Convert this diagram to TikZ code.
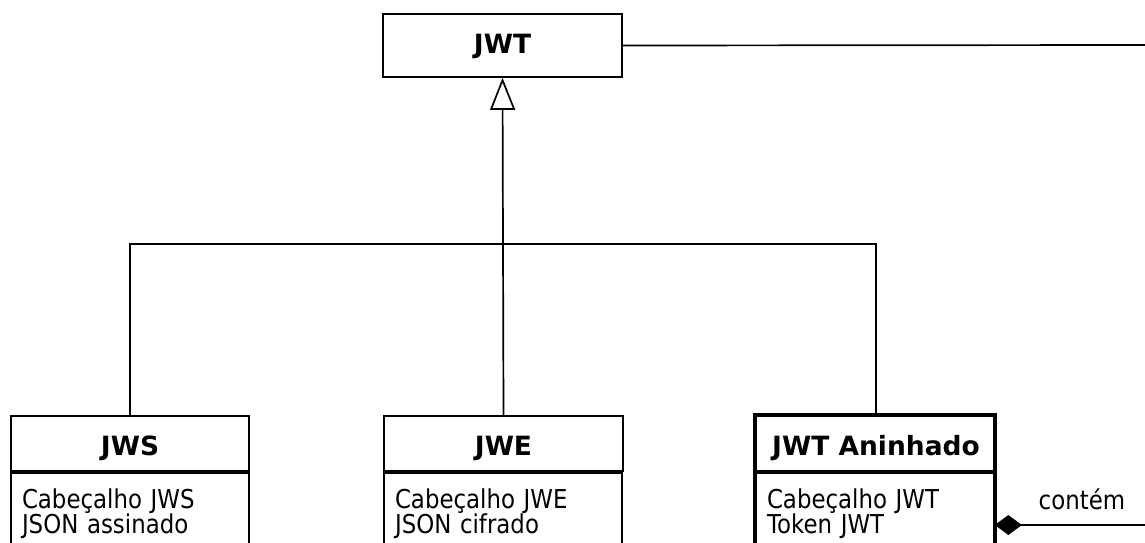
\documentclass[tikz,border=0pt]{standalone}
\usepackage{fontspec}
\setmainfont[FakeStretch=0.88]{DejaVu Sans}
\newfontfamily\titlefont{DejaVu Sans}
\usetikzlibrary{arrows.meta}
\begin{document}
\begin{tikzpicture}[x=1pt, y=-1pt, line width=1.7pt,
  classname/.style={draw, inner sep=0pt, minimum height=55pt,
    text height=23pt, text depth=0pt,
    font=\titlefont\fontsize{26.5}{30}\selectfont\bfseries},
  attrbox/.style={draw, anchor=north west, align=left, text width=216pt,
    inner xsep=11pt, inner ysep=16pt, text depth=80pt,
    font=\fontsize{26}{25.5}\selectfont},
  thickframe/.style={line width=3.4pt},
  wire/.style={line width=1.7pt}]
  \useasboundingbox (0,0) rectangle (1145,543);
  \clip (0,0) rectangle (1145,543);

  % parent class
  \node[classname, minimum width=239pt, minimum height=63pt, text height=16pt] (jwt) at (502.5,45.5) {JWT};

  % subclasses: name compartment and attribute compartment
  \node[classname, minimum width=238pt] (jws) at (130,443.5) {JWS};
  \node[attrbox] (jwsattr) at (jws.south west) {Cabeçalho JWS\\JSON assinado};

  \node[classname, minimum width=239pt] (jwe) at (503.5,443.5) {JWE};
  \node[attrbox] (jweattr) at (jwe.south west) {Cabeçalho JWE\\JSON cifrado};

  \node[classname, minimum width=240pt] (ani) at (876,443.5) {JWT Aninhado};
  \node[attrbox] (aniattr) at (ani.south west) {Cabeçalho JWT\\Token JWT};
  \draw[thickframe] (ani.north west) rectangle (aniattr.south east);

  % generalization tree
  \coordinate (bus) at (503,244);
  \draw[wire] (jws.north) |- (bus);
  \draw[wire] (ani.north) |- (bus);
  \draw[wire] (jwe.north) -- (bus);
  \draw[wire, -{Triangle[open, length=32pt, width=25pt, line width=1.7pt]}] (bus) -- (jwt.south);

  % association leaving the parent class
  \coordinate (jwtend) at (1145,45);
  \draw[wire] (jwt.east) -- (jwtend);

  % composition: JWT Aninhado contains a JWT
  \coordinate (compend) at (1145,525);
  \draw[wire, {Diamond[length=27pt, width=20pt]}-] (compend -| aniattr.east) -- (compend)
    node[pos=0.58, above=16pt, anchor=base, font=\fontsize{26}{30}\selectfont] (contem) {contém};
\end{tikzpicture}
\end{document}
